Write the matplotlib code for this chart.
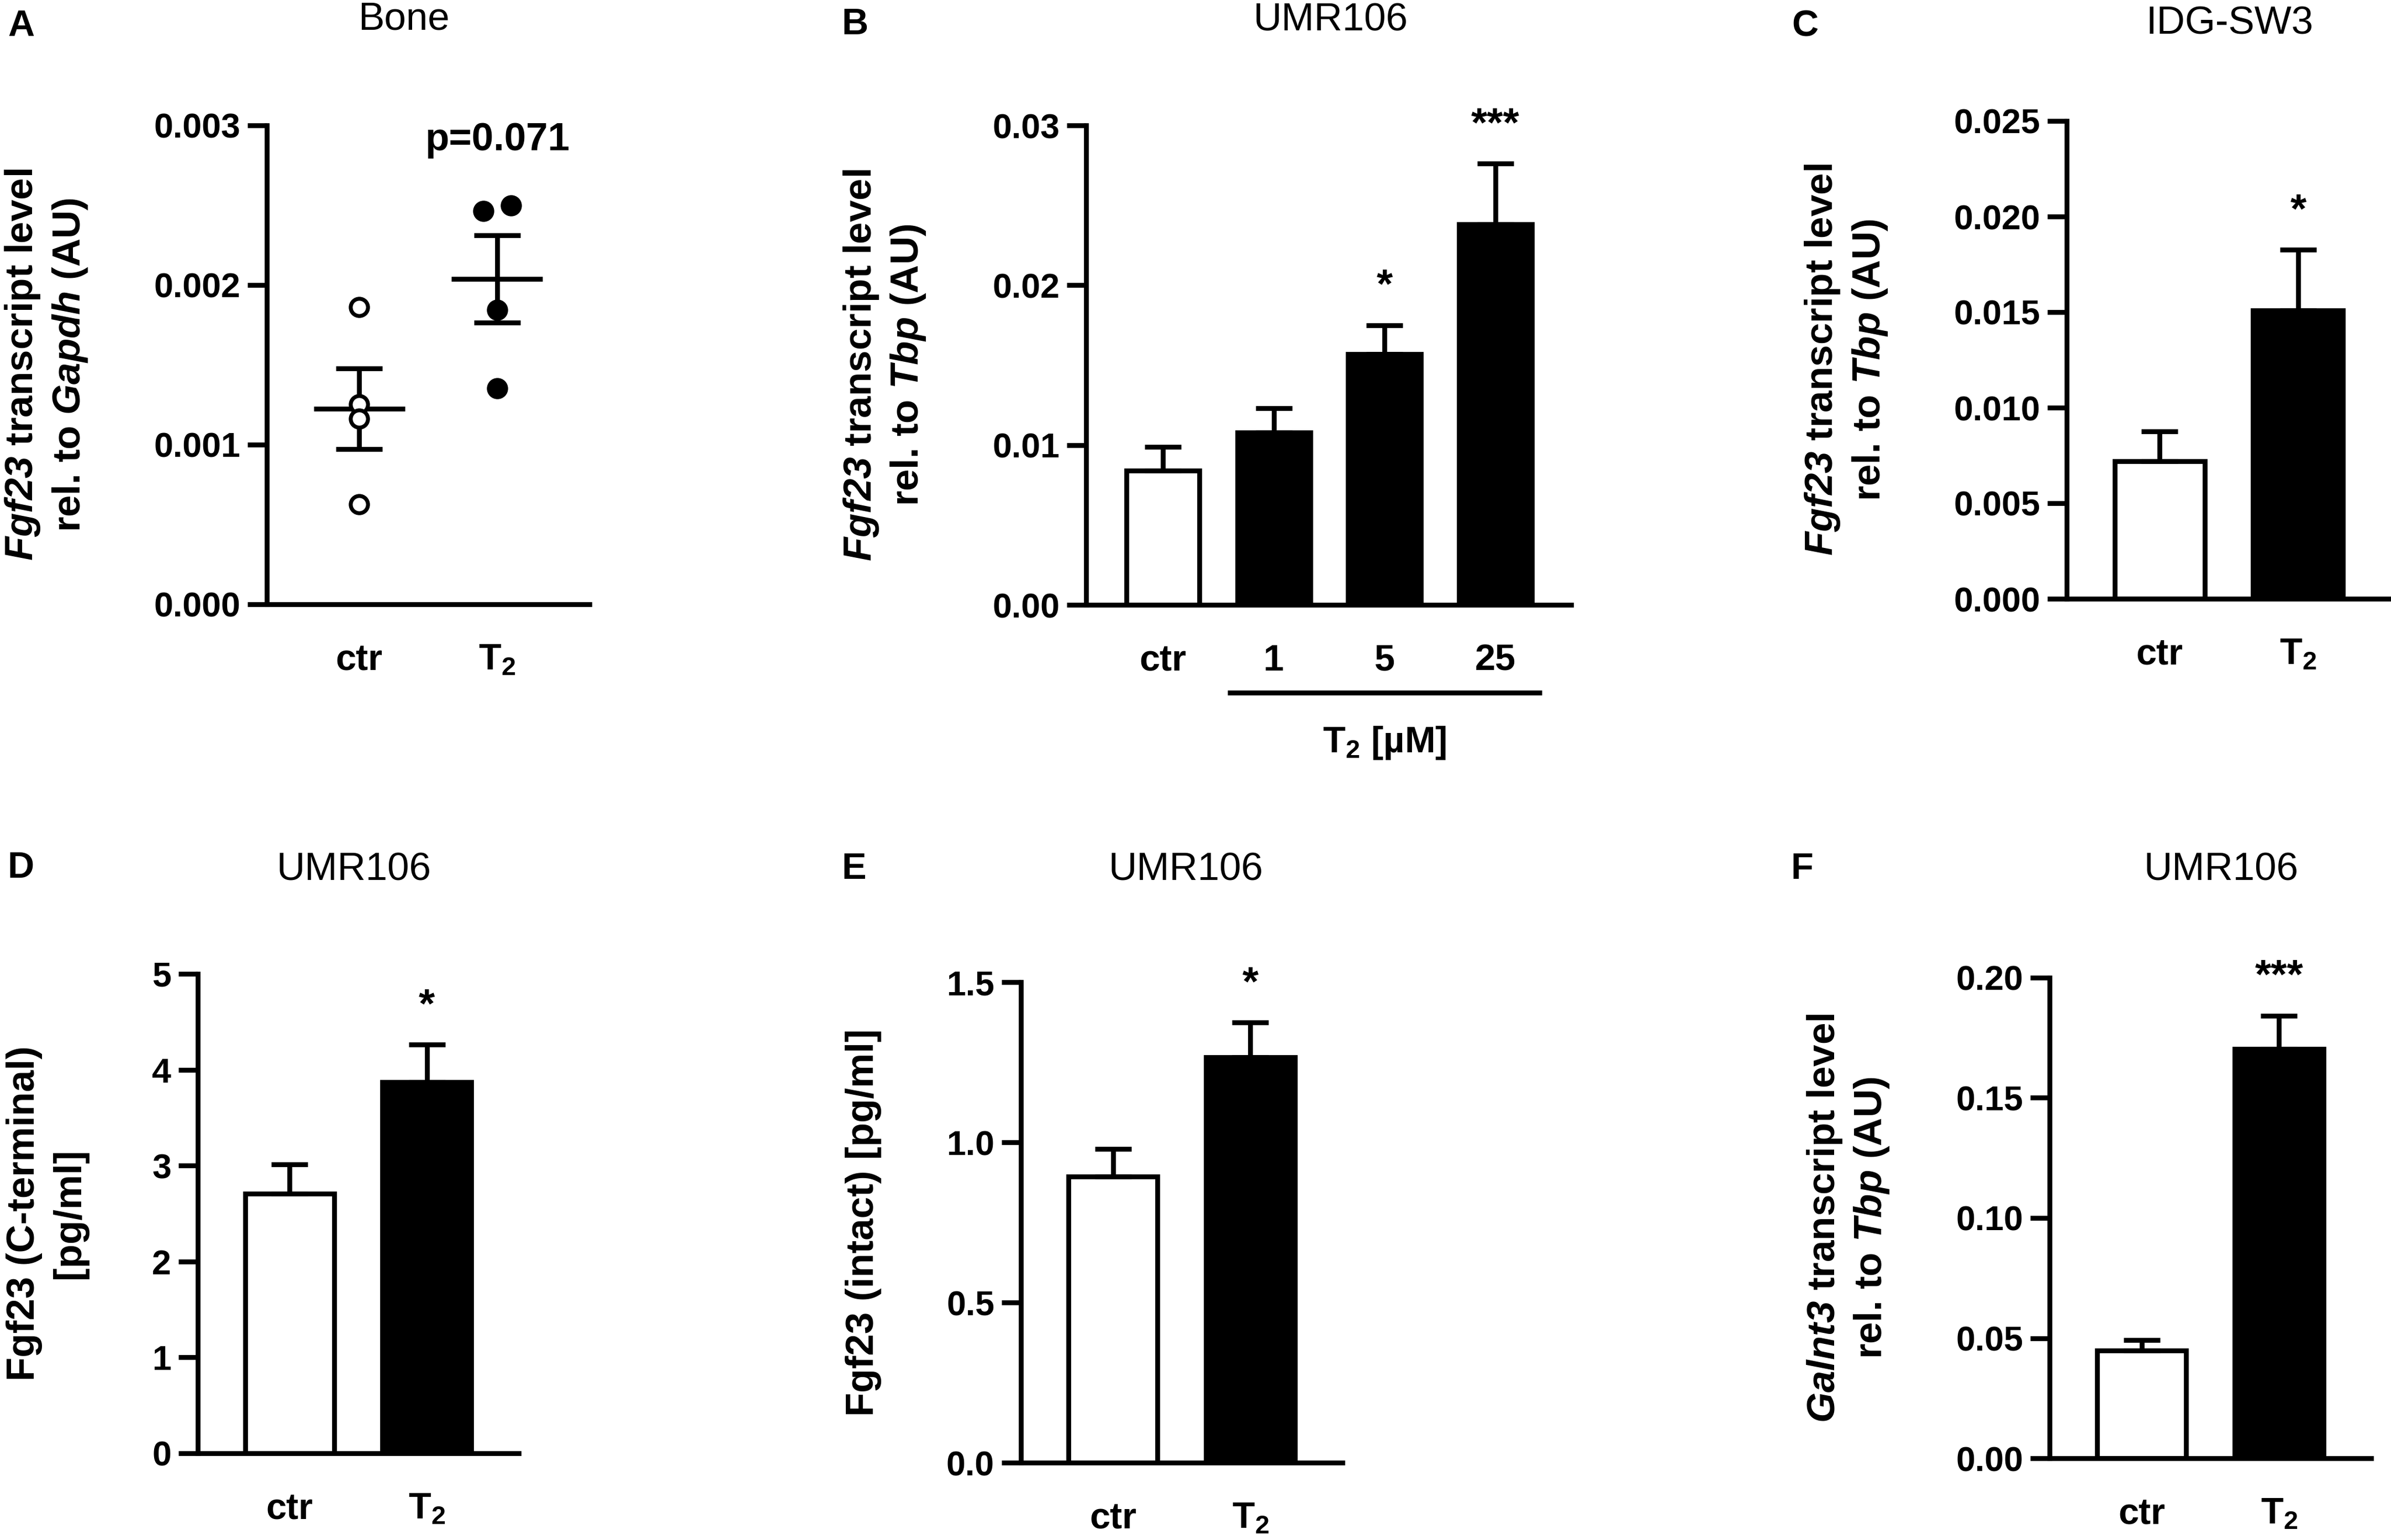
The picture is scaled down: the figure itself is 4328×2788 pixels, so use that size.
import numpy as np
import matplotlib
matplotlib.use('Agg')
import matplotlib.pyplot as plt
from matplotlib.ticker import FormatStrFormatter
from matplotlib.transforms import blended_transform_factory

plt.rcParams['font.family'] = ['Liberation Sans', 'DejaVu Sans']
plt.rcParams['font.weight'] = 'bold'
plt.rcParams['axes.labelweight'] = 'bold'
plt.rcParams['mathtext.fontset'] = 'custom'
plt.rcParams['mathtext.rm'] = 'Liberation Sans:italic:bold'
plt.rcParams['mathtext.it'] = 'Liberation Sans:italic:bold'
plt.rcParams['mathtext.bf'] = 'Liberation Sans:bold'
plt.rcParams['mathtext.default'] = 'regular'

W, H = 4328, 2788
DPI = 300
LW = 2.1

# ---- data ----
groups = ['ctr', 'T$_2$']

# A: bone, individual animals
bone_ctr = [0.001862, 0.001252, 0.001162, 0.000628]
bone_t2 = [0.002462, 0.002498, 0.001845, 0.001352]

# B: UMR106 dose response
doses = ['ctr', '1', '5', '25']
umr_fgf23_mean = [0.0084, 0.0108, 0.0157, 0.0238]
umr_fgf23_sem = [0.0015, 0.0015, 0.0018, 0.0038]
umr_fgf23_sig = ['', '', '*', '***']

# C: IDG-SW3
idg_mean = [0.0072, 0.0151]
idg_sem = [0.00155, 0.00317]
idg_sig = ['', '*']

# D: C-terminal Fgf23
cterm_mean = [2.71, 3.87]
cterm_sem = [0.30, 0.39]
cterm_sig = ['', '*']

# E: intact Fgf23
intact_mean = [0.893, 1.266]
intact_sem = [0.086, 0.108]
intact_sig = ['', '*']

# F: Galnt3
galnt3_mean = [0.0448, 0.1704]
galnt3_sem = [0.0045, 0.0138]
galnt3_sig = ['', '***']

fig = plt.figure(figsize=(W / DPI, H / DPI), dpi=DPI)


def make_axes(l, r, t, b):
    return fig.add_axes([l / W, 1 - b / H, (r - l) / W, (b - t) / H])


def style(ax, ymax, nticks, fmt, ylabel):
    for s in ['top', 'right']:
        ax.spines[s].set_visible(False)
    for s in ['left', 'bottom']:
        ax.spines[s].set_linewidth(LW)
    ax.set_ylim(0, ymax)
    ax.set_yticks(np.linspace(0, ymax, nticks))
    ax.yaxis.set_major_formatter(FormatStrFormatter(fmt))
    ax.tick_params(axis='y', length=8.5, width=LW, pad=3, labelsize=15)
    ax.tick_params(axis='x', length=0, pad=17, labelsize=16)
    ax.set_ylabel(ylabel, fontsize=17, labelpad=28, linespacing=1.3)


def bar_panel(ax, labels, means, sems, sig, width=0.65):
    x = np.arange(len(means))
    colors = ['white'] + ['black'] * (len(means) - 1)
    ax.bar(x, means, width=width, color=colors, edgecolor='black',
           linewidth=LW, zorder=2)
    ax.errorbar(x, means, yerr=[np.zeros(len(means)), sems], fmt='none',
                ecolor='black', elinewidth=LW, capsize=8, capthick=LW, zorder=3)
    for xi, m, s, txt in zip(x, means, sems, sig):
        if txt:
            ax.annotate(txt, (xi, m + s), xytext=(0, 12), textcoords='offset points',
                        ha='center', va='baseline', fontsize=18, annotation_clip=False)
    ax.set_xticks(x, labels)
    ax.set_xlim(-0.67, len(means) - 1 + 0.67)
    return x


def spread(vals, tol, step):
    off = np.zeros(len(vals))
    for i in range(len(vals)):
        close = [j for j in range(len(vals)) if abs(vals[j] - vals[i]) < tol]
        if len(close) > 1:
            k = close.index(i)
            off[i] = (k - (len(close) - 1) / 2) * 2 * step
    return off


# ---- A ----
axA = make_axes(483, 1067, 227, 1094)
style(axA, 0.003, 4, '%.3f', '$\\mathit{Fgf23}$ transcript level\nrel. to $\\mathit{Gapdh}$ (AU)')
for i, vals in enumerate([bone_ctr, bone_t2]):
    vals = np.array(vals)
    xs = i + spread(vals, 0.00005, 0.1)
    face = 'white' if i == 0 else 'black'
    axA.plot(xs, vals, 'o', ms=7.5, mfc=face, mec='black', mew=1.7, zorder=3)
    m = vals.mean()
    se = vals.std(ddof=1) / np.sqrt(len(vals))
    axA.hlines(m, i - 0.33, i + 0.33, color='black', lw=LW, zorder=2)
    axA.errorbar(i, m, yerr=se, fmt='none', ecolor='black', elinewidth=LW,
                 capsize=10, capthick=LW, zorder=2)
axA.annotate('p=0.071', (1, max(bone_t2)), xytext=(0, 24), textcoords='offset points',
             ha='center', va='baseline', fontsize=17, annotation_clip=False)
axA.set_xticks([0, 1], groups)
axA.set_xlim(-0.67, 1.67)

# ---- B ----
axB = make_axes(1966, 2844, 227, 1095)
style(axB, 0.03, 4, '%.2f', '$\\mathit{Fgf23}$ transcript level\nrel. to $\\mathit{Tbp}$ (AU)')
xb = bar_panel(axB, doses, umr_fgf23_mean, umr_fgf23_sem, umr_fgf23_sig, width=0.66)
axB.set_xlim(-0.695, 3.685)
trans = blended_transform_factory(axB.transData, axB.transAxes)
axB.plot([xb[1] - 0.42, xb[-1] + 0.42], [-0.183, -0.183], transform=trans,
         color='black', lw=LW, clip_on=False, solid_capstyle='butt')
axB.text(xb[1:].mean(), -0.288, 'T$_2$ [µM]', transform=trans, ha='center',
         va='center', fontsize=16)

# ---- C ----
axC = make_axes(3741, 4328, 219, 1084)
style(axC, 0.025, 6, '%.3f', '$\\mathit{Fgf23}$ transcript level\nrel. to $\\mathit{Tbp}$ (AU)')
bar_panel(axC, groups, idg_mean, idg_sem, idg_sig)

# ---- D ----
axD = make_axes(358, 939, 1763, 2631)
style(axD, 5, 6, '%d', 'Fgf23 (C-terminal)\n[pg/ml]')
bar_panel(axD, groups, cterm_mean, cterm_sem, cterm_sig)

# ---- E ----
axE = make_axes(1848, 2430, 1778, 2648)
style(axE, 1.5, 4, '%.1f', 'Fgf23 (intact) [pg/ml]')
bar_panel(axE, groups, intact_mean, intact_sem, intact_sig)

# ---- F ----
axF = make_axes(3710, 4292, 1770, 2640)
style(axF, 0.20, 5, '%.2f', '$\\mathit{Galnt3}$ transcript level\nrel. to $\\mathit{Tbp}$ (AU)')
bar_panel(axF, groups, galnt3_mean, galnt3_sem, galnt3_sig)

# ---- panel letters and titles ----
letters = [('A', 14, 48), ('B', 1524, 45), ('C', 3243, 48),
           ('D', 14, 1572), ('E', 1524, 1574), ('F', 3241, 1574)]
for txt, px, py in letters:
    fig.text(px / W, 1 - py / H, txt, fontsize=16, weight='bold', ha='left', va='center')

titles = [('Bone', 731, 35), ('UMR106', 2408, 37), ('IDG-SW3', 4036, 43),
          ('UMR106', 641, 1576), ('UMR106', 2147, 1576), ('UMR106', 4021, 1576)]
for txt, px, py in titles:
    fig.text(px / W, 1 - py / H, txt, fontsize=17, weight='normal', ha='center', va='center')

fig.savefig('out.png', dpi=DPI, facecolor='white')
